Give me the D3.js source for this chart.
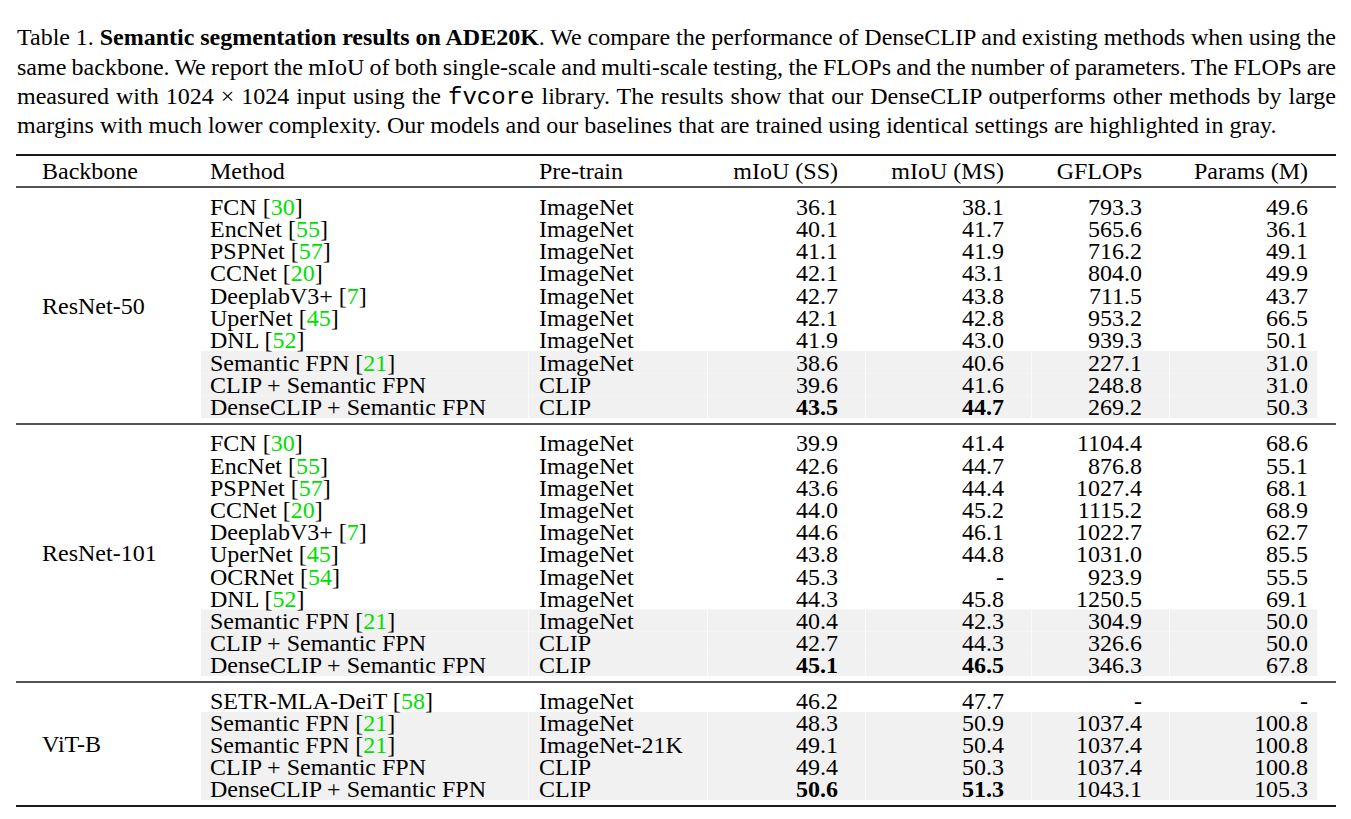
<!DOCTYPE html>
<html>
<head>
<meta charset="utf-8">
<script src="https://cdn.jsdelivr.net/npm/d3@7"></script>
<style>
  body { margin: 0; background: #fff; }
  svg { display: block; }
  text { font-family: "Liberation Serif", "Times New Roman", serif; white-space: pre; fill: #000; }
</style>
</head>
<body>
<div class="chart"></div>
<script>
// ---- data ----
const backbones = ["ResNet-50", "ResNet-101", "ViT-B"];
const groupSizes = [10, 11, 5];
const methods = [
  "FCN", "EncNet", "PSPNet", "CCNet", "DeeplabV3+", "UperNet", "DNL", "Semantic FPN", "CLIP + Semantic FPN", "DenseCLIP + Semantic FPN",
  "FCN", "EncNet", "PSPNet", "CCNet", "DeeplabV3+", "UperNet", "OCRNet", "DNL", "Semantic FPN", "CLIP + Semantic FPN", "DenseCLIP + Semantic FPN",
  "SETR-MLA-DeiT", "Semantic FPN", "Semantic FPN", "CLIP + Semantic FPN", "DenseCLIP + Semantic FPN"];
const refs = [30, 55, 57, 20, 7, 45, 52, 21, null, null,
  30, 55, 57, 20, 7, 45, 54, 52, 21, null, null,
  58, 21, 21, null, null];
const pretrain = [
  "ImageNet", "ImageNet", "ImageNet", "ImageNet", "ImageNet", "ImageNet", "ImageNet", "ImageNet", "CLIP", "CLIP",
  "ImageNet", "ImageNet", "ImageNet", "ImageNet", "ImageNet", "ImageNet", "ImageNet", "ImageNet", "ImageNet", "CLIP", "CLIP",
  "ImageNet", "ImageNet", "ImageNet-21K", "CLIP", "CLIP"];
const miouSS = [36.1, 40.1, 41.1, 42.1, 42.7, 42.1, 41.9, 38.6, 39.6, 43.5,
  39.9, 42.6, 43.6, 44.0, 44.6, 43.8, 45.3, 44.3, 40.4, 42.7, 45.1,
  46.2, 48.3, 49.1, 49.4, 50.6];
const miouMS = [38.1, 41.7, 41.9, 43.1, 43.8, 42.8, 43.0, 40.6, 41.6, 44.7,
  41.4, 44.7, 44.4, 45.2, 46.1, 44.8, null, 45.8, 42.3, 44.3, 46.5,
  47.7, 50.9, 50.4, 50.3, 51.3];
const gflops = [793.3, 565.6, 716.2, 804.0, 711.5, 953.2, 939.3, 227.1, 248.8, 269.2,
  1104.4, 876.8, 1027.4, 1115.2, 1022.7, 1031.0, 923.9, 1250.5, 304.9, 326.6, 346.3,
  null, 1037.4, 1037.4, 1037.4, 1043.1];
const params = [49.6, 36.1, 49.1, 49.9, 43.7, 66.5, 50.1, 31.0, 31.0, 50.3,
  68.6, 55.1, 68.1, 68.9, 62.7, 85.5, 55.5, 69.1, 50.0, 50.0, 67.8,
  null, 100.8, 100.8, 100.8, 105.3];
const highlighted = [0, 0, 0, 0, 0, 0, 0, 1, 1, 1,
  0, 0, 0, 0, 0, 0, 0, 0, 1, 1, 1,
  0, 1, 1, 1, 1];
const bestRows = [9, 20, 25];   // bold mIoU
const headers = ["Backbone", "Method", "Pre-train", "mIoU (SS)", "mIoU (MS)", "GFLOPs", "Params (M)"];

const captionLines = [
  [{t: "Table 1. "}, {t: "Semantic segmentation results on ADE20K", b: 1}, {t: ". We compare the performance of DenseCLIP and existing methods when using the"}],
  [{t: "same backbone. We report the mIoU of both single-scale and multi-scale testing, the FLOPs and the number of parameters. The FLOPs are"}],
  [{t: "measured with 1024 \u00d7 1024 input using the "}, {t: "fvcore", m: 1}, {t: " library. The results show that our DenseCLIP outperforms other methods by large"}],
  [{t: "margins with much lower complexity. Our models and our baselines that are trained using identical settings are highlighted in gray."}]
];

// ---- layout ----
const width = 1351, height = 819;
const left = 16, right = 1336;
const fs = 24;
const svg = d3.select(".chart").append("svg")
  .attr("width", width).attr("height", height)
  .attr("viewBox", [0, 0, width, height]);

// caption
const capY = d3.scaleLinear().domain([0, 3]).range([37, 125]);
captionLines.forEach((line, i) => {
  const t = svg.append("text")
    .attr("x", left + 1)
    .attr("y", capY(i))
    .attr("dy", "0.35em")
    .style("font-size", fs + "px");
  line.forEach(seg => {
    const ts = t.append("tspan").text(seg.t);
    if (seg.b) ts.style("font-weight", "bold");
    if (seg.m) ts.style("font-family", "'Liberation Mono', 'DejaVu Sans Mono', monospace");
  });
  // justify all but the last line
  if (i < captionLines.length - 1) {
    const full = line.map(s => s.t).join("");
    const nSpaces = (full.match(/ /g) || []).length;
    const natural = t.node().getComputedTextLength();
    t.style("word-spacing", ((right - left - 1 - natural) / nSpaces) + "px");
  }
});

// columns
const cols = ["backbone", "method", "pretrain", "ss", "ms", "gflops", "params"];
const colX = d3.scaleOrdinal().domain(cols).range([42, 210, 539, 838, 1004, 1142, 1308]);
const colAnchor = d3.scaleOrdinal().domain(cols).range(["start", "start", "start", "end", "end", "end", "end"]);
// cell edges for the gray highlight
const cellEdges = [201, 529, 708, 866, 1032, 1170, 1318];

const ruleTop = 155, ruleHead = 187;
const sectionEnds = [424, 682, 806];

// rules
const rules = [
  {y: ruleTop, w: 2.2},
  {y: ruleHead, w: 1.4},
  {y: sectionEnds[0], w: 1.4},
  {y: sectionEnds[1], w: 1.4},
  {y: sectionEnds[2], w: 2.2}
];

// header
svg.append("g").selectAll("text")
  .data(headers)
  .join("text")
  .attr("x", (d, i) => colX(cols[i]))
  .attr("y", (ruleTop + ruleHead) / 2)
  .attr("dy", "0.35em")
  .attr("text-anchor", (d, i) => colAnchor(cols[i]))
  .style("font-size", fs + "px")
  .text(d => d);

// build rows
const rows = methods.map((m, i) => ({
  i, method: m, ref: refs[i], pretrain: pretrain[i],
  ss: miouSS[i], ms: miouMS[i], gflops: gflops[i], params: params[i],
  gray: highlighted[i] === 1, best: bestRows.includes(i)
}));

let start = 0;
groupSizes.forEach((n, s) => {
  const top = s === 0 ? ruleHead : sectionEnds[s - 1];
  const bottom = sectionEnds[s];
  const y = d3.scaleBand().domain(d3.range(start, start + n)).range([top + 8, bottom - 6]);
  const secRows = rows.slice(start, start + n);
  const g = svg.append("g");

  // gray cells
  g.selectAll("g.hl")
    .data(secRows.filter(r => r.gray))
    .join("g").attr("class", "hl")
    .selectAll("rect")
    .data(r => d3.range(cellEdges.length - 1).map(c => ({r, c})))
    .join("rect")
    .attr("x", d => cellEdges[d.c])
    .attr("width", d => cellEdges[d.c + 1] - cellEdges[d.c] - 0.7)
    .attr("y", d => y(d.r.i))
    .attr("height", y.bandwidth())
    .attr("fill", "#f1f1f1");

  // backbone label
  g.append("text")
    .attr("x", colX("backbone"))
    .attr("y", (top + bottom) / 2)
    .attr("dy", "0.35em")
    .style("font-size", fs + "px")
    .text(backbones[s]);

  const row = g.selectAll("g.row")
    .data(secRows)
    .join("g").attr("class", "row")
    .attr("transform", d => `translate(0,${y(d.i) + y.bandwidth() / 2})`);

  // method with citation
  const mt = row.append("text")
    .attr("x", colX("method"))
    .attr("dy", "0.35em")
    .style("font-size", fs + "px");
  mt.append("tspan").text(d => d.method + (d.ref != null ? " [" : ""));
  mt.filter(d => d.ref != null).append("tspan").attr("fill", "#00e000").style("fill", "#00e000").text(d => d.ref);
  mt.filter(d => d.ref != null).append("tspan").text("]");

  row.append("text")
    .attr("x", colX("pretrain"))
    .attr("dy", "0.35em")
    .style("font-size", fs + "px")
    .text(d => d.pretrain);

  ["ss", "ms", "gflops", "params"].forEach(k => {
    row.append("text")
      .attr("x", colX(k))
      .attr("dy", "0.35em")
      .attr("text-anchor", "end")
      .style("font-size", fs + "px")
      .style("font-weight", d => (d.best && (k === "ss" || k === "ms")) ? "bold" : "normal")
      .text(d => d[k] == null ? "-" : d3.format(".1f")(d[k]));
  });

  start += n;
});

svg.append("g").selectAll("line")
  .data(rules)
  .join("line")
  .attr("x1", left).attr("x2", right)
  .attr("y1", d => d.y).attr("y2", d => d.y)
  .attr("stroke", "#1a1a1a")
  .attr("stroke-width", d => d.w);
</script>
</body>
</html>
